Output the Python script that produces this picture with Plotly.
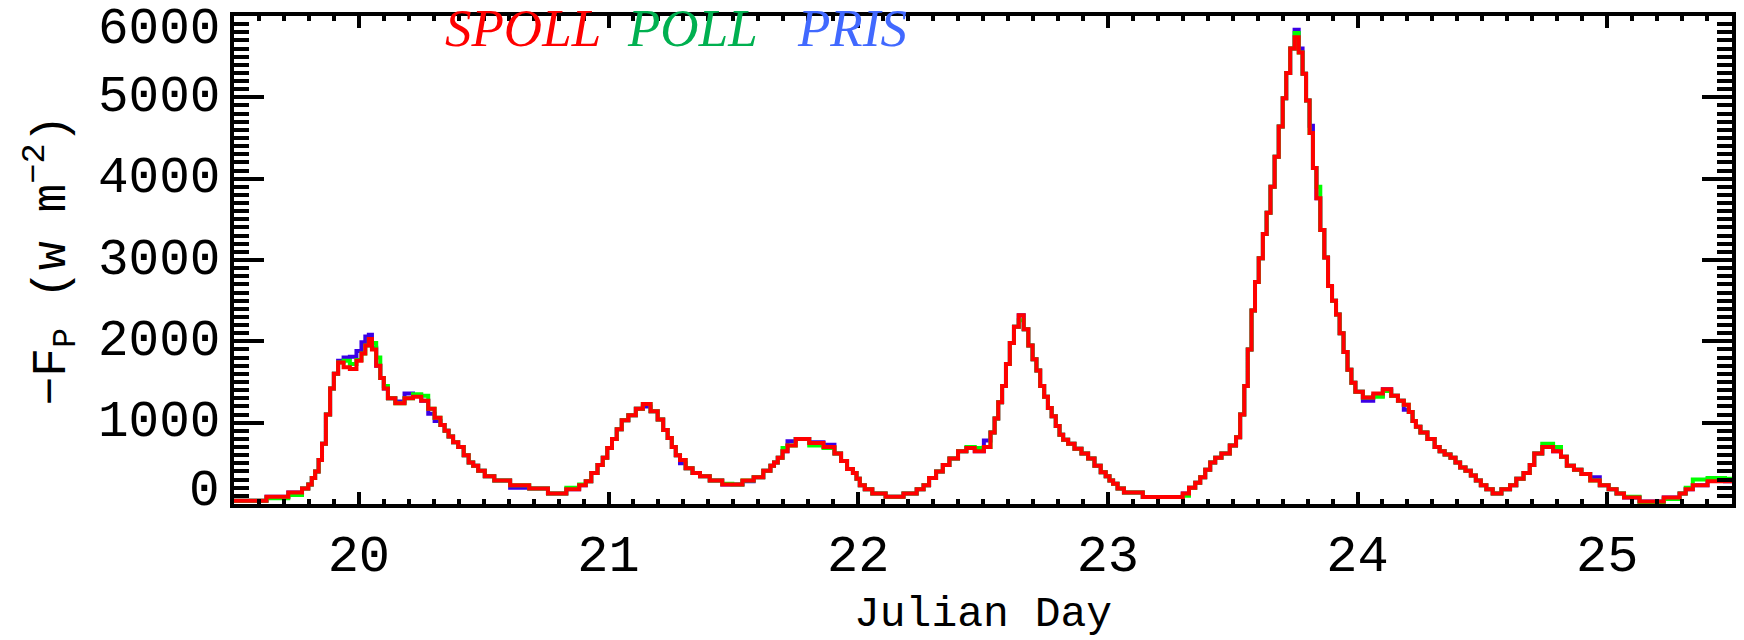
import plotly.graph_objects as go

# ---- data (Julian day, flux in W m^-2) ----
day = [
    19.50, 19.58, 19.68, 19.755, 19.79, 19.805, 19.818, 19.832, 19.846, 19.859,
    19.877, 19.893, 19.907, 19.927, 19.951, 19.977, 20.004, 20.017, 20.035, 20.045,
    20.06, 20.079, 20.093, 20.107, 20.126, 20.166, 20.2, 20.234, 20.266, 20.29,
    20.317, 20.337, 20.35, 20.369, 20.386, 20.41, 20.43, 20.45, 20.466, 20.49,
    20.519, 20.566, 20.646, 20.719, 20.796, 20.866, 20.899, 20.919, 20.943, 20.969,
    20.985, 21.005, 21.023, 21.043, 21.063, 21.096, 21.123, 21.152, 21.185, 21.209,
    21.229, 21.245, 21.262, 21.277, 21.296, 21.322, 21.351, 21.382, 21.429, 21.482,
    21.51, 21.563, 21.6, 21.64, 21.657, 21.669, 21.687, 21.707, 21.727, 21.773,
    21.835, 21.887, 21.923, 21.94, 21.971, 21.987, 22.0, 22.013, 22.04, 22.073,
    22.147, 22.216, 22.253, 22.271, 22.297, 22.327, 22.351, 22.38, 22.42, 22.447,
    22.487, 22.52, 22.54, 22.553, 22.569, 22.584, 22.6, 22.615, 22.633, 22.653,
    22.673, 22.69, 22.707, 22.721, 22.737, 22.753, 22.767, 22.783, 22.8, 22.813,
    22.829, 22.853, 22.88, 22.909, 22.933, 22.96, 22.983, 23.0, 23.013, 23.029,
    23.049, 23.08, 23.2, 23.29, 23.31, 23.34, 23.36, 23.38, 23.4, 23.42,
    23.44, 23.47, 23.507, 23.52, 23.54, 23.553, 23.568, 23.583, 23.596, 23.613,
    23.629, 23.643, 23.66, 23.676, 23.693, 23.708, 23.721, 23.74, 23.756, 23.773,
    23.787, 23.801, 23.815, 23.828, 23.843, 23.859, 23.875, 23.889, 23.907, 23.921,
    23.936, 23.952, 23.968, 23.983, 24.0, 24.043, 24.083, 24.12, 24.15, 24.174,
    24.197, 24.214, 24.227, 24.241, 24.263, 24.297, 24.321, 24.337, 24.361, 24.384,
    24.401, 24.421, 24.444, 24.464, 24.484, 24.504, 24.528, 24.555, 24.598, 24.624,
    24.648, 24.682, 24.698, 24.718, 24.762, 24.805, 24.825, 24.852, 24.882, 24.912,
    24.952, 24.989, 25.023, 25.052, 25.083, 25.176, 25.277, 25.303, 25.326, 25.36,
    25.444, 25.5,
]

spoll = [
    40, 40, 90, 140, 190, 240, 320, 400, 540, 740,
    1100, 1420, 1600, 1740, 1680, 1660, 1760, 1850, 1950, 2030,
    1900, 1700, 1550, 1420, 1300, 1240, 1300, 1320, 1270, 1170,
    1060, 970, 900, 830, 760, 700, 600, 510, 470, 410,
    340, 290, 230, 190, 130, 180, 230, 280, 380, 480,
    570, 690, 800, 920, 1030, 1090, 1170, 1230, 1140, 1040,
    910, 810, 700, 600, 540, 440, 380, 340, 290, 240,
    240, 290, 330, 410, 470, 510, 570, 650, 720, 800,
    750, 700, 620, 530, 430, 380, 310, 230, 180, 130,
    90, 130, 180, 230, 320, 400, 480, 560, 650, 690,
    650, 700, 880, 1050, 1250, 1450, 1720, 1980, 2180, 2320,
    2150, 1950, 1780, 1640, 1450, 1320, 1180, 1080, 960, 850,
    790, 740, 680, 620, 560, 470, 390, 340, 290, 250,
    190, 140, 85, 85, 130, 200, 260, 330, 420, 510,
    570, 620, 720, 820, 1100, 1450, 1900, 2380, 2730, 3020,
    3320, 3580, 3900, 4270, 4640, 4990, 5300, 5600, 5740, 5550,
    5290, 4960, 4560, 4130, 3760, 3370, 3030, 2680, 2500, 2330,
    2100, 1870, 1650, 1490, 1380, 1310, 1360, 1410, 1330, 1270,
    1220, 1130, 1020, 950, 880, 800, 700, 650, 610, 570,
    510, 450, 410, 350, 290, 230, 180, 130, 180, 230,
    310, 380, 480, 620, 700, 650, 580, 470, 420, 370,
    290, 230, 180, 130, 80, 30, 80, 130, 180, 230,
    280, 280,
]

poll = [
    40, 40, 70, 110, 190, 240, 320, 400, 540, 740,
    1100, 1420, 1600, 1740, 1760, 1720, 1770, 1850, 1950, 2030,
    1980, 1800, 1550, 1450, 1300, 1240, 1300, 1350, 1330, 1170,
    1060, 970, 900, 830, 760, 700, 600, 510, 470, 410,
    340, 290, 230, 190, 130, 200, 240, 280, 380, 480,
    570, 690, 800, 920, 1030, 1090, 1170, 1230, 1140, 1040,
    910, 810, 700, 600, 540, 440, 380, 340, 290, 250,
    240, 290, 330, 410, 470, 510, 570, 690, 720, 800,
    720, 690, 620, 530, 430, 380, 310, 230, 180, 130,
    90, 130, 180, 230, 320, 400, 480, 560, 650, 700,
    690, 700, 880, 1050, 1250, 1450, 1720, 1980, 2180, 2260,
    2150, 1950, 1780, 1640, 1450, 1320, 1180, 1080, 960, 850,
    790, 740, 680, 620, 560, 470, 390, 340, 290, 250,
    190, 140, 85, 85, 100, 200, 260, 330, 420, 510,
    570, 620, 720, 820, 1100, 1450, 1900, 2380, 2730, 3020,
    3320, 3580, 3900, 4270, 4640, 4990, 5300, 5600, 5790, 5550,
    5290, 4960, 4560, 4130, 3900, 3370, 3030, 2680, 2500, 2330,
    2100, 1870, 1650, 1490, 1380, 1310, 1320, 1390, 1330, 1270,
    1220, 1130, 1020, 950, 880, 800, 700, 650, 610, 570,
    510, 450, 410, 350, 290, 230, 180, 130, 180, 230,
    310, 380, 480, 620, 740, 700, 580, 470, 420, 370,
    290, 230, 180, 130, 90, -10, 60, 130, 200, 300,
    320, 310,
]

pris = [
    40, 40, 90, 140, 190, 240, 320, 400, 540, 740,
    1100, 1420, 1600, 1760, 1800, 1810, 1880, 1990, 2060, 2080,
    1920, 1700, 1550, 1420, 1300, 1260, 1360, 1330, 1270, 1110,
    1020, 970, 900, 830, 760, 700, 600, 510, 470, 410,
    340, 290, 200, 190, 130, 180, 230, 280, 380, 480,
    570, 690, 800, 920, 1030, 1090, 1170, 1200, 1140, 1040,
    910, 810, 700, 600, 500, 440, 380, 340, 290, 240,
    240, 280, 330, 410, 470, 510, 570, 650, 770, 800,
    760, 730, 620, 530, 430, 380, 310, 230, 180, 130,
    90, 130, 180, 230, 320, 400, 480, 560, 650, 690,
    650, 780, 880, 1050, 1250, 1450, 1720, 1980, 2180, 2320,
    2150, 1950, 1780, 1640, 1450, 1320, 1180, 1080, 960, 850,
    790, 740, 680, 620, 560, 470, 390, 340, 290, 250,
    190, 140, 85, 85, 130, 200, 260, 330, 420, 510,
    570, 620, 720, 820, 1100, 1450, 1900, 2380, 2730, 3020,
    3320, 3580, 3900, 4270, 4640, 4990, 5300, 5600, 5830, 5600,
    5290, 4960, 4650, 4130, 3760, 3370, 3030, 2680, 2500, 2330,
    2100, 1870, 1650, 1490, 1380, 1270, 1330, 1410, 1330, 1270,
    1160, 1130, 1020, 950, 880, 800, 700, 650, 610, 570,
    510, 450, 410, 350, 290, 230, 180, 130, 180, 230,
    310, 380, 480, 620, 700, 650, 580, 470, 420, 370,
    330, 230, 180, 130, 80, 30, 80, 130, 180, 230,
    300, 280,
]

series_names = ["PRIS", "POLL", "SPOLL"]
x_ticks = [20, 21, 22, 23, 24, 25]
y_ticks = [0, 1000, 2000, 3000, 4000, 5000, 6000]

assert len(day) == len(spoll) == len(poll) == len(pris)

# ---- styling ----
line_colors = {"PRIS": "#3A00E6", "POLL": "#00FF00", "SPOLL": "#FF0000"}
label_colors = {"SPOLL": "#FF0000", "POLL": "#00B050", "PRIS": "#4169FF"}
series_vals = {"PRIS": pris, "POLL": poll, "SPOLL": spoll}
MONO = "Liberation Mono"

fig = go.Figure()
for name in series_names:
    fig.add_trace(go.Scatter(
        x=day, y=series_vals[name], mode="lines", name=name,
        line=dict(color=line_colors[name], width=4, shape="hvh"),
        showlegend=False,
    ))

fig.update_layout(
    template="none",
    width=1744, height=640,
    margin=dict(l=234, r=12, t=16, b=136, pad=0),
    paper_bgcolor="white", plot_bgcolor="white",
    showlegend=False,
)

fig.update_xaxes(
    range=[19.5, 25.5], tickmode="linear", tick0=x_ticks[0], dtick=1,
    automargin=False,
    ticks="inside", ticklen=12, tickwidth=4, tickcolor="black",
    showline=True, linewidth=4, linecolor="black", mirror="allticks",
    showgrid=False, zeroline=False,
    tickfont=dict(family=MONO, size=52, color="black"),
    ticklabelstandoff=1,
    minor=dict(ticks="inside", ticklen=5, tickwidth=3.5, tickcolor="black",
               dtick=0.1, showgrid=False),
)
fig.update_yaxes(
    range=[y_ticks[0], y_ticks[-1]], tickmode="linear", tick0=0, dtick=1000,
    automargin=False,
    ticks="inside", ticklen=30, tickwidth=4, tickcolor="black",
    showline=True, linewidth=4, linecolor="black", mirror="allticks",
    showgrid=False, zeroline=False, showticklabels=False,
    minor=dict(ticks="inside", ticklen=15, tickwidth=3.5, tickcolor="black",
               dtick=100, showgrid=False),
)

# y tick labels (IDL keeps the end labels inside the axis span)
for v in y_ticks:
    shift = 13 if v == y_ticks[0] else (-13 if v == y_ticks[-1] else 0)
    fig.add_annotation(
        x=0, xref="paper", y=v, yref="y", text=str(v), showarrow=False,
        xanchor="right", yanchor="middle", xshift=-12, yshift=shift,
        font=dict(family=MONO, size=51, color="black"),
    )

# axis titles
fig.add_annotation(
    x=0.5, xref="paper", y=-0.226, yref="paper", text="Julian Day",
    showarrow=False, xanchor="center", yanchor="middle",
    font=dict(family=MONO, size=43, color="black"),
)
fig.add_annotation(
    x=-0.1225, xref="paper", y=0.5, yref="paper",
    text="\u2212F<sub>P</sub> (w m<sup>\u22122</sup>)", textangle=-90,
    showarrow=False, xanchor="center", yanchor="middle",
    font=dict(family=MONO, size=48, color="black"),
)

# series labels at the top
label_x = {"SPOLL": 0.1395, "POLL": 0.2610, "PRIS": 0.3745}
for name in ["SPOLL", "POLL", "PRIS"]:
    fig.add_annotation(
        x=label_x[name], xref="paper", y=0.976, yref="paper",
        text="<i>" + name + "</i>", showarrow=False,
        xanchor="left", yanchor="middle",
        font=dict(family="Liberation Serif", size=53, color=label_colors[name]),
    )

# remove the default 8px page margin so the figure fills the window exactly
fig.write_html(
    "out.html",
    config={"displayModeBar": False},
    post_script="document.body.style.margin='0';",
)
